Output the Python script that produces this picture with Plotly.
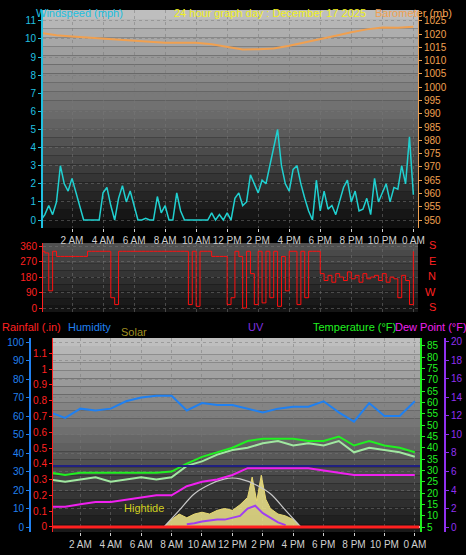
import plotly.graph_objects as go

# ---------------- data ----------------
wind_hours = [i * 0.25 for i in range(97)]
wind_mph = [0, 0.3, 0.8, 0.3, 1.0, 3.0, 2.0, 1.6, 2.3, 1.5, 0.8, 0, 0, 0, 0, 0,
            1.5, 1.8, 0.8, 0, 1.2, 1.9, 1.0, 1.6, 0.8, 0, 0, 0.1, 0, 0, 1.3, 0.4,
            0.8, 0, 0, 1.5, 0.5, 0, 0, 0, 0, 0, 0, 0, 0.4, 0, 0.3, 0, 0.4, 0, 1.2, 1.5,
            0.8, 1.0, 2.5, 2.0, 1.5, 2.2, 2.0, 3.0, 4.0, 5.0, 3.0, 2.0, 1.6, 2.8, 3.0, 2.0, 1.2, 0.5,
            0, 2.2, 0.5, 1.6, 0.6, 0.8, 0.3, 1.0, 1.8, 2.2, 1.0, 1.6, 0.5, 0.6, 1.2, 0.3, 2.3, 1.0,
            1.5, 2.0, 1.0, 1.8, 1.7, 3.0, 2.0, 4.6, 1.4]
baro_hours = list(range(25))
baro_mb = [1020.5, 1019.6, 1019.1, 1018.7, 1018.2, 1017.7, 1017.3, 1017.1, 1016.8, 1016.8,
           1016.8, 1016.2, 1015.2, 1014.2, 1014.3, 1014.6, 1015.6, 1016.8, 1018.1, 1019.4,
           1020.7, 1021.8, 1022.5, 1022.4, 1022.8]
dir_hours = [i * 0.25 for i in range(97)]
dir_deg = [330, 320, 100, 330, 300, 300, 300, 300, 300, 300, 300, 300, 330, 330, 330, 330,
           330, 330, 60, 20, 330, 330, 330, 330, 330, 330, 330, 330, 330, 330, 330, 330,
           330, 330, 330, 330, 330, 330, 20, 330, 10, 330, 330, 330, 300, 300, 300, 300,
           20, 60, 330, 300, 0, 330, 200, 20, 330, 30, 330, 60, 330, 10, 300, 100, 330, 330,
           20, 330, 60, 330, 330, 330, 200, 160, 190, 150, 200, 180, 160, 210, 170, 190,
           150, 200, 170, 180, 190, 160, 200, 150, 180, 170, 60, 190, 160, 20, 330]
hours = list(range(25))
humidity = [62, 59, 64, 63, 64, 68, 70, 71, 71, 63, 67, 66, 66, 64, 62, 64, 65, 65, 68, 62,
            57, 67, 60, 60, 68]
temperature = [29, 28, 29, 29, 29, 29, 29, 29, 29.5, 33, 36, 38, 40, 43, 44, 44, 44, 43, 43,
               45, 41, 43, 41, 40, 38]
feels_like = [26, 25, 26, 27, 25, 26, 27, 26, 27, 32, 34, 37, 39, 40, 42, 43, 41, 42, 41,
              43, 38, 40, 39, 38, 36]
dew_point = [14, 14, 15, 16, 16, 17, 18, 19, 19, 23, 25, 26, 28, 31, 31, 31, 31, 31, 30,
             29, 28, 28, 28, 28, 28]
solar_hours = [7.5, 8, 8.5, 9, 9.5, 10, 10.5, 11, 11.5, 12, 12.5, 13, 13.3, 13.6, 13.9, 14.2, 14.5, 15, 15.5, 16, 16.5]
solar = [0, 4, 7, 5, 7, 8, 7, 9, 10, 9, 12, 16, 27, 14, 28, 15, 10, 7, 6, 4, 0]
theory_hours = [7.5, 8.5, 9.5, 10.5, 11.5, 12, 12.5, 13.5, 14.5, 15.5, 16.5]
theory = [0, 9, 18, 23, 26, 26.5, 26, 23, 18, 9, 0]
uv_hours = [9, 9.5, 10, 10.5, 11, 11.5, 12, 12.5, 13, 13.5, 14, 14.5, 15, 15.5]
uv = [0.3, 0.4, 0.6, 0.7, 0.8, 0.8, 1.0, 1.2, 2.0, 2.3, 1.5, 1.0, 0.5, 0.2]
rain_hours = [0, 24.3]
rain = [0, 0]
tick_hours = [2, 4, 6, 8, 10, 12, 14, 16, 18, 20, 22, 24]
tick_labels = ["2 AM", "4 AM", "6 AM", "8 AM", "10 AM", "12 PM", "2 PM", "4 PM", "6 PM", "8 PM", "10 PM", "0 AM"]

F = "Liberation Sans"
fig = go.Figure()
fig.add_trace(go.Scatter(x=baro_hours, y=baro_mb, xaxis="x", yaxis="y2", mode="lines",
                         line=dict(color="#f0a050", width=2)))
fig.add_trace(go.Scatter(x=wind_hours, y=wind_mph, xaxis="x", yaxis="y", mode="lines",
                         line=dict(color="#20d0d0", width=1.5)))
fig.add_trace(go.Scatter(x=dir_hours, y=dir_deg, xaxis="x2", yaxis="y3", mode="lines",
                         line=dict(color="#ff1010", width=1, shape="hv")))
fig.add_trace(go.Scatter(x=solar_hours, y=solar, xaxis="x3", yaxis="y4", mode="lines", fill="tozeroy",
                         fillcolor="rgba(240,230,140,0.85)", line=dict(color="#e8d870", width=1)))
fig.add_trace(go.Scatter(x=theory_hours, y=theory, xaxis="x3", yaxis="y4", mode="lines",
                         line=dict(color="#c8c8c8", width=1.2, shape="spline")))
fig.add_trace(go.Scatter(x=hours, y=humidity, xaxis="x3", yaxis="y4", mode="lines",
                         line=dict(color="#2080f0", width=2)))
fig.add_trace(go.Scatter(x=hours, y=feels_like, xaxis="x3", yaxis="y5", mode="lines",
                         line=dict(color="#a0e8a0", width=2)))
fig.add_trace(go.Scatter(x=hours, y=temperature, xaxis="x3", yaxis="y5", mode="lines",
                         line=dict(color="#20f020", width=2)))
fig.add_trace(go.Scatter(x=hours, y=dew_point, xaxis="x3", yaxis="y5", mode="lines",
                         line=dict(color="#f020f0", width=2)))
fig.add_trace(go.Scatter(x=[0, 24.4], y=[32, 32], xaxis="x3", yaxis="y5", mode="lines",
                         line=dict(color="#202080", width=2)))
fig.add_trace(go.Scatter(x=uv_hours, y=uv, xaxis="x3", yaxis="y6", mode="lines",
                         line=dict(color="#a040f0", width=2)))
fig.add_trace(go.Scatter(x=rain_hours, y=rain, xaxis="x3", yaxis="y7", mode="lines",
                         line=dict(color="#ff2020", width=3)))

def gradient(y0, y1, x0, x1, top, bottom, n=24):
    shapes = []
    for i in range(n):
        t = i / (n - 1)
        c = int(top + (bottom - top) * t)
        a = y1 - (y1 - y0) * i / n
        b = y1 - (y1 - y0) * (i + 1) / n
        shapes.append(dict(type="rect", xref="paper", yref="paper", x0=x0, x1=x1, y0=b, y1=a,
                           fillcolor=f"rgb({c},{c},{c})", line=dict(width=0), layer="below"))
    return shapes

top_dom = [1 - 228 / 555, 1 - 10 / 555]
mid_dom = [1 - 312 / 555, 1 - 243 / 555]
bot_dom = [1 - 532 / 555, 1 - 338 / 555]
xt = [43 / 466, 418 / 466]
xb = [53 / 466, 420 / 466]
shapes = gradient(*top_dom, *xt, 190, 15) + gradient(*mid_dom, *xt, 80, 20, 10) + gradient(*bot_dom, *xb, 190, 25)

grid = dict(showgrid=True, gridcolor="rgba(120,120,120,0.5)", griddash="dot", gridwidth=1, zeroline=False)
tick = dict(ticks="outside", ticklen=3, automargin=False, tickfont=dict(family=F, size=10))
xtick = dict(ticks="outside", ticklen=3, tickangle=0, automargin=False, tickfont=dict(family=F, size=10))
fig.update_layout(
    width=466, height=555, margin=dict(l=0, r=0, t=0, b=0, autoexpand=False), paper_bgcolor="black",
    plot_bgcolor="rgba(0,0,0,0)", showlegend=False, shapes=shapes,
    xaxis=dict(domain=xt, range=[0.13, 24.3], anchor="y", tickvals=tick_hours, ticktext=tick_labels,
               color="#d0d0d0", **grid, **xtick),
    yaxis=dict(domain=top_dom, range=[-0.44, 11.6], dtick=1, color="#20c0e0", showline=True,
               linecolor="#20c0e0", linewidth=2, **grid, **tick),
    yaxis2=dict(overlaying="y", side="right", anchor="x", range=[947, 1029.1], dtick=5,
                color="#f0a050", showline=True, linecolor="#f0a050", showgrid=False, **tick),
    xaxis2=dict(domain=xt, range=[0.13, 24.3], anchor="y3", tickvals=tick_hours, showticklabels=False,
                **grid),
    yaxis3=dict(domain=mid_dom, range=[-23, 378], tickvals=[0, 90, 180, 270, 360], color="#ff2020",
                showline=True, linecolor="#ff2020", **grid, **tick),
    xaxis3=dict(domain=xb, range=[0.2, 24.34], anchor="y4", tickvals=tick_hours, ticktext=tick_labels,
                color="#d0d0d0", **grid, **xtick),
    yaxis4=dict(domain=bot_dom, range=[-2.7, 102.2], dtick=10, color="#2080f0", anchor="free",
                position=30 / 466, showline=True, linecolor="#2080f0", linewidth=2, **grid, **tick),
    yaxis5=dict(overlaying="y4", side="right", anchor="x3", range=[2.79, 88.5], dtick=5,
                color="#20f020", showline=True, linecolor="#20f020", linewidth=2, showgrid=False, **tick),
    yaxis6=dict(overlaying="y4", side="right", anchor="free", position=445 / 466, range=[-0.54, 20.43],
                dtick=2, color="#9030f0", showline=True, linecolor="#9030f0", linewidth=2, showgrid=False, **tick),
    yaxis7=dict(overlaying="y4", side="left", anchor="x3", range=[-0.032, 1.197], dtick=0.1,
                color="#ff2020", showline=True, linecolor="#ff2020", showgrid=False, **tick),
)
ann = [
    (34, 5, "Windspeed (mph)", "#20c0e0"), (172, 5, "24 hour graph day : December 17 2025", "#f0f020"),
    (373, 5, "Barometer (mb)", "#f0a050"),
    (0, 327, "Rainfall (.in)", "#ff2020"), (66, 327, "Humidity", "#2080f0"), (119, 332, "Solar", "#a09020"),
    (246, 327, "UV", "#8030e0"), (311, 327, "Temperature (°F)", "#20f020"), (393, 327, "Dew Point (°F)", "#f020f0"),
    (122, 516, "Hightide", "#d0d020"),
]
for x, y, t, c in ann:
    fig.add_annotation(x=x / 466, y=1 - y / 555, xref="paper", yref="paper", text=t, showarrow=False,
                       xanchor="left", font=dict(family=F, size=11, color=c))
for i, t in enumerate(["S", "E", "N", "W", "S"]):
    fig.add_annotation(x=438 / 466, y=1 - (245 + i * 15.5) / 555, xref="paper", yref="paper", text=t,
                       showarrow=False, font=dict(family=F, size=11, color="#ff2020"))
fig.write_html("out.html", config={"displayModeBar": False},
               post_script="document.body.style.margin='0';document.body.style.background='black';")
